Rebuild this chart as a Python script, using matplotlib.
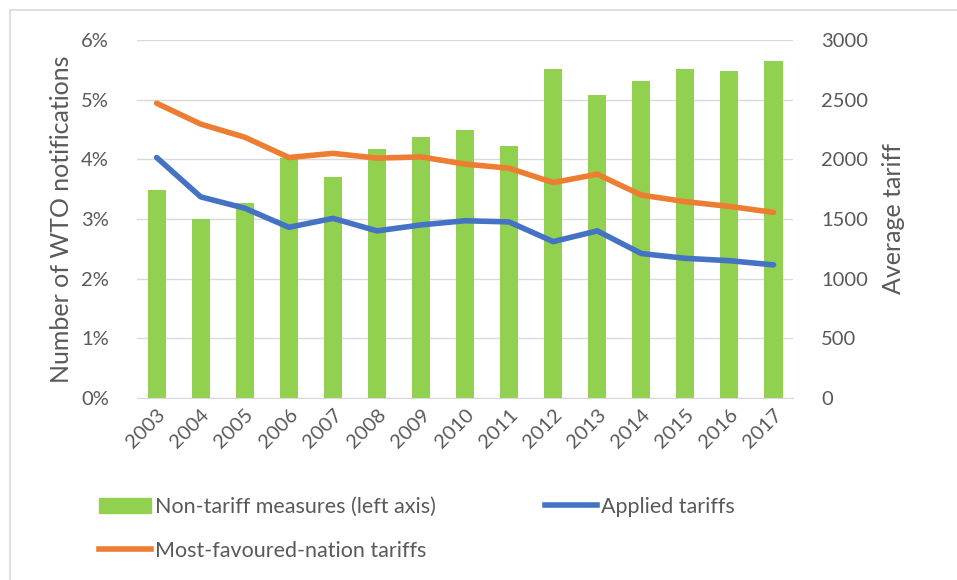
import numpy as np
import matplotlib.pyplot as plt
from matplotlib.lines import Line2D
from matplotlib.patches import Patch
from matplotlib.ticker import FuncFormatter

plt.rcParams['font.family'] = ['Lato', 'DejaVu Sans']

years = ['2003', '2004', '2005', '2006', '2007', '2008', '2009', '2010',
         '2011', '2012', '2013', '2014', '2015', '2016', '2017']
non_tariff = [1740, 1500, 1630, 2010, 1855, 2085, 2190, 2245,
              2110, 2755, 2540, 2660, 2755, 2740, 2820]
applied = [4.03, 3.37, 3.18, 2.86, 3.01, 2.80, 2.90, 2.97,
           2.95, 2.62, 2.80, 2.42, 2.34, 2.30, 2.23]
mfn = [4.94, 4.59, 4.37, 4.03, 4.10, 4.02, 4.04, 3.92,
       3.85, 3.61, 3.75, 3.40, 3.29, 3.21, 3.11]

txt = '#595959'
fig = plt.figure(figsize=(9.57, 5.8), dpi=100)
ax = fig.add_axes([0.143, 0.314, 0.686, 0.617])
ax2 = ax.twinx()

x = np.arange(len(years))
ax2.bar(x, non_tariff, width=0.41, color='#92D050', zorder=1)
ax.plot(x, applied, color='#4472C4', lw=4, solid_capstyle='round', zorder=3)
ax.plot(x, mfn, color='#ED7D31', lw=4, solid_capstyle='round', zorder=3)

# lines drawn above bars
ax.set_zorder(ax2.get_zorder() + 1)
ax.patch.set_visible(False)

ax.set_ylim(0, 6)
ax.set_yticks(np.arange(0, 7, 1))
ax.yaxis.set_major_formatter(FuncFormatter(lambda v, p: f'{v:.0f}%'))
ax2.set_ylim(0, 3000)
ax2.set_yticks(np.arange(0, 3001, 500))
ax.set_xlim(-0.45, 14.45)
ax.set_xticks(x)
ax.set_xticklabels(years, rotation=45, ha='right', rotation_mode='anchor')

ax2.grid(axis='y', color='#D9D9D9', lw=1)
ax2.set_axisbelow(True)
for a in (ax, ax2):
    for s in a.spines.values():
        s.set_visible(False)
    a.tick_params(length=0, colors=txt, labelsize=14.5)
ax2.spines['bottom'].set_visible(True)
ax2.spines['bottom'].set_color('#D9D9D9')
ax.tick_params(axis='y', pad=20)
ax2.tick_params(axis='y', pad=20)
ax.tick_params(axis='x', pad=6)

ax.set_ylabel('Number of WTO notifications', fontsize=18, color=txt, labelpad=6)
ax2.set_ylabel('Average tariff', fontsize=18, color=txt, labelpad=10)

h_bar = Patch(color='#92D050')
h_app = Line2D([], [], color='#4472C4', lw=4)
h_mfn = Line2D([], [], color='#ED7D31', lw=4)
kw = dict(frameon=False, fontsize=15.5, labelcolor=txt, handlelength=2.4,
          handletextpad=0.2, borderaxespad=0, borderpad=0, labelspacing=1.1)
fig.legend([h_bar, h_mfn], ['Non-tariff measures (left axis)', 'Most-favoured-nation tariffs'],
           loc='upper left', bbox_to_anchor=(99 / 957, 1 - 497 / 580), **kw)
fig.legend([h_app], ['Applied tariffs'],
           loc='upper left', bbox_to_anchor=(545 / 957, 1 - 497 / 580), **kw)

# outer frame
fig.add_artist(Line2D([10 / 957, 1], [1 - 10 / 580, 1 - 10 / 580], color='#D9D9D9', lw=1.2))
fig.add_artist(Line2D([10 / 957, 10 / 957], [0, 1 - 10 / 580], color='#D9D9D9', lw=1.2))

fig.savefig('out.png', dpi=100)
